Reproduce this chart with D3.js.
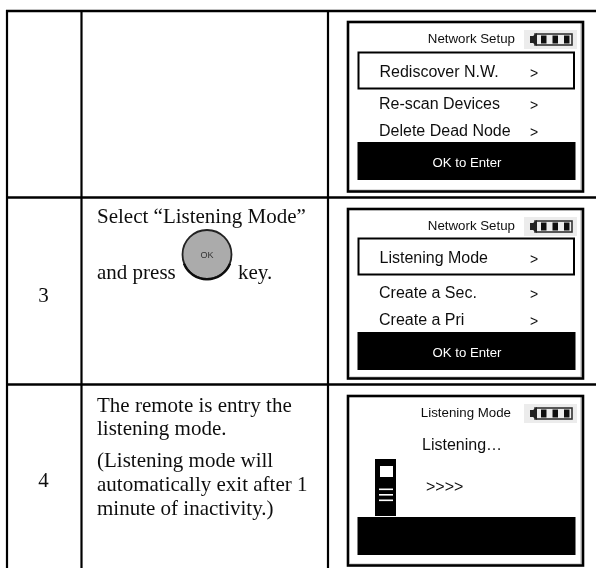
<!DOCTYPE html>
<html>
<head>
<meta charset="utf-8">
<script src="https://cdn.jsdelivr.net/npm/d3@7"></script>
<style>
html, body { margin: 0; padding: 0; background: #fff; }
svg { display: block; }
.serif { font-family: "Liberation Serif", serif; fill: #111; }
.sans { font-family: "Liberation Sans", sans-serif; fill: #111; }
</style>
</head>
<body>
<div id="chart"></div>
<script>
// table content
var stepLabels = ["", "3", "4"];
var stepTwoLines = ["Select “Listening Mode”", "and press", "key."];
var stepFourLines = ["The remote is entry the", "listening mode.", "(Listening mode will", "automatically exit after 1", "minute of inactivity.)"];

// screen content
var screenTitles = ["Network Setup", "Network Setup", "Listening Mode"];
var menuOne = ["Rediscover N.W.", "Re-scan Devices", "Delete Dead Node"];
var menuTwo = ["Listening Mode", "Create a Sec.", "Create a Pri"];
var barLabels = ["OK to Enter", "OK to Enter", ""];
var batteryCells = [0, 1, 2];
var deviceLines = [0, 1, 2];

var width = 596;
var height = 568;

var svg = d3.select("#chart")
    .append("svg")
    .attr("width", width)
    .attr("height", height);

var defs = svg.append("defs");
defs.append("filter")
    .attr("id", "soft")
    .attr("x", "-5%").attr("y", "-5%")
    .attr("width", "110%").attr("height", "110%")
    .append("feGaussianBlur")
    .attr("stdDeviation", 0.45);

// grid
var rowLines = [11, 197.5, 384.5];
var colLines = [7, 81.5, 328];

svg.append("g")
    .selectAll("line")
    .data(rowLines)
    .join("line")
    .attr("x1", 6).attr("x2", width)
    .attr("y1", d => d).attr("y2", d => d)
    .attr("stroke", "#000").attr("stroke-width", 2.4);

svg.append("g")
    .selectAll("line")
    .data(colLines)
    .join("line")
    .attr("x1", d => d).attr("x2", d => d)
    .attr("y1", 10).attr("y2", height)
    .attr("stroke", "#000").attr("stroke-width", 2.2);

var soft = svg.append("g").attr("filter", "url(#soft)");

// step numbers
var numberY = [0, 302, 487];
soft.append("g")
    .selectAll("text")
    .data(stepLabels)
    .join("text")
    .attr("class", "serif")
    .attr("x", 43.5)
    .attr("y", (d, i) => numberY[i])
    .attr("text-anchor", "middle")
    .style("font-size", "21px")
    .text(d => d);

// step 3 text
var twoX = [97, 97, 238];
var twoY = [223, 279, 279];
soft.append("g")
    .selectAll("text")
    .data(stepTwoLines)
    .join("text")
    .attr("class", "serif")
    .attr("x", (d, i) => twoX[i])
    .attr("y", (d, i) => twoY[i])
    .style("font-size", "21px")
    .text(d => d);

// OK key
var key = soft.append("g").attr("transform", "translate(207,254.5)");
key.append("circle")
    .attr("r", 24.5)
    .attr("fill", "#ababab")
    .attr("stroke", "#222")
    .attr("stroke-width", 1.8);
key.append("path")
    .attr("d", d3.arc()({ innerRadius: 23.5, outerRadius: 26, startAngle: Math.PI * 0.62, endAngle: Math.PI * 1.38 }))
    .attr("fill", "#111");
key.append("text")
    .attr("class", "sans")
    .attr("y", 3.5)
    .attr("text-anchor", "middle")
    .style("font-size", "9px")
    .style("fill", "#333")
    .text("OK");

// step 4 text
var fourY = [412, 435, 467, 491, 515];
soft.append("g")
    .selectAll("text")
    .data(stepFourLines)
    .join("text")
    .attr("class", "serif")
    .attr("x", 97)
    .attr("y", (d, i) => fourY[i])
    .style("font-size", "21px")
    .text(d => d);

// screens
var frameTop = [22, 209, 396];
var titleEnd = [515, 515, 511];

function drawScreen(index) {
    var g = soft.append("g").attr("transform", "translate(0," + frameTop[index] + ")");

    // grey halo inside the frame
    g.append("path")
        .attr("d", "M581,1V168H350")
        .attr("fill", "none")
        .attr("stroke", "#bbb")
        .attr("stroke-width", 1.2);
    g.append("rect")
        .attr("x", 348).attr("y", 0)
        .attr("width", 235).attr("height", 169.5)
        .attr("fill", "none")
        .attr("stroke", "#000")
        .attr("stroke-width", 2.6);

    g.append("text")
        .attr("class", "sans")
        .attr("x", titleEnd[index])
        .attr("y", 21)
        .attr("text-anchor", "end")
        .style("font-size", "13.3px")
        .text(screenTitles[index]);

    // battery
    g.append("rect")
        .attr("x", 524).attr("y", 8)
        .attr("width", 53).attr("height", 19)
        .attr("fill", "#ececec");
    g.append("rect")
        .attr("x", 535).attr("y", 12)
        .attr("width", 37).attr("height", 11)
        .attr("fill", "none")
        .attr("stroke", "#333")
        .attr("stroke-width", 1.6);
    g.append("path")
        .attr("d", "M530,14H533L537,11V24L533,21H530Z")
        .attr("fill", "#222");
    g.append("g")
        .selectAll("rect")
        .data(batteryCells)
        .join("rect")
        .attr("x", d => 541 + d * 11.5)
        .attr("y", 13.5)
        .attr("width", 5.5)
        .attr("height", 8)
        .attr("fill", "#111");

    return g;
}

function drawMenu(g, labels, layout) {
    g.append("rect")
        .attr("x", 358.5).attr("y", layout.boxTop)
        .attr("width", 215.5).attr("height", 36)
        .attr("fill", "none")
        .attr("stroke", "#000")
        .attr("stroke-width", 2);

    g.append("g")
        .selectAll("text")
        .data(labels)
        .join("text")
        .attr("class", "sans")
        .attr("x", (d, i) => i === 0 ? 379.5 : 379)
        .attr("y", (d, i) => layout.rows[i])
        .style("font-size", "16px")
        .text(d => d);

    g.append("g")
        .selectAll("text")
        .data(labels)
        .join("text")
        .attr("class", "sans")
        .attr("x", 530)
        .attr("y", (d, i) => layout.rows[i] + 1)
        .style("font-size", "14px")
        .text(">");
}

function drawBar(g, index, top) {
    g.append("rect")
        .attr("x", 357.5).attr("y", top)
        .attr("width", 218).attr("height", 38)
        .attr("fill", "#000");
    g.append("text")
        .attr("class", "sans")
        .attr("x", 467)
        .attr("y", top + 25)
        .attr("text-anchor", "middle")
        .style("font-size", "13.2px")
        .style("fill", "#fff")
        .text(barLabels[index]);
}

var screenOne = drawScreen(0);
drawMenu(screenOne, menuOne, { boxTop: 30.5, rows: [55, 87, 114] });
drawBar(screenOne, 0, 120);

var screenTwo = drawScreen(1);
drawMenu(screenTwo, menuTwo, { boxTop: 29.5, rows: [54, 89, 116] });
drawBar(screenTwo, 1, 123);

var screenThree = drawScreen(2);
drawBar(screenThree, 2, 121);

screenThree.append("text")
    .attr("class", "sans")
    .attr("x", 422).attr("y", 54)
    .style("font-size", "16px")
    .text("Listening…");
screenThree.append("text")
    .attr("class", "sans")
    .attr("x", 426).attr("y", 96)
    .style("font-size", "16px")
    .text(">>>>");

// remote icon
screenThree.append("rect")
    .attr("x", 375).attr("y", 63)
    .attr("width", 21).attr("height", 57)
    .attr("fill", "#000");
screenThree.append("rect")
    .attr("x", 380).attr("y", 70)
    .attr("width", 13).attr("height", 11)
    .attr("fill", "#fff");
screenThree.append("g")
    .selectAll("rect")
    .data(deviceLines)
    .join("rect")
    .attr("x", 379)
    .attr("y", d => 92.5 + d * 5.5)
    .attr("width", 14)
    .attr("height", 1.6)
    .attr("fill", "#fff");
</script>
</body>
</html>
